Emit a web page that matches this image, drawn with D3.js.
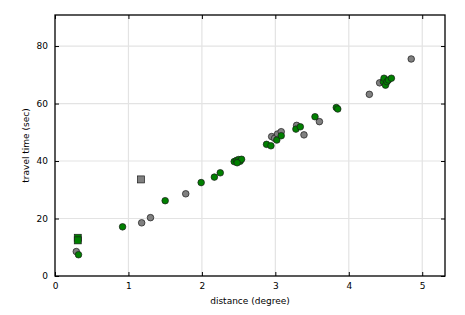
<!DOCTYPE html>
<html>
<head>
<meta charset="utf-8">
<script src="https://cdn.jsdelivr.net/npm/d3@7"></script>
<style>
  body { margin: 0; background: #fff; }
  text { font-family: "DejaVu Sans", sans-serif; }
</style>
</head>
<body>
<script>
// circles: [distance, travel time]
const greenDist = [0.32, 0.92, 1.50, 1.99, 2.17, 2.25, 2.44, 2.47, 2.50, 2.52, 2.54, 2.48,
  2.88, 2.94, 3.02, 3.08, 3.28, 3.34, 3.54, 3.83, 3.85, 4.47, 4.48, 4.50, 4.52, 4.54, 4.58];
const greenTime = [7.4, 17.1, 26.2, 32.5, 34.4, 35.9, 39.8, 40.2, 40.5, 39.9, 40.6, 39.4,
  45.8, 45.3, 47.3, 48.8, 51.1, 51.9, 55.4, 58.6, 58.1, 67.6, 68.8, 66.4, 67.6, 68.2, 68.8];
const grayDist = [0.29, 1.18, 1.30, 1.78, 2.95, 2.99, 3.03, 3.08, 3.29, 3.39, 3.60, 4.28, 4.42, 4.85];
const grayTime = [8.5, 18.5, 20.3, 28.6, 48.5, 47.9, 49.4, 50.2, 52.4, 49.1, 53.7, 63.2, 67.2, 75.5];
// squares
const greenSqDist = [0.31, 0.31];
const greenSqTime = [13.3, 12.4];
const graySqDist = [1.17];
const graySqTime = [33.6];

const xTicks = [0, 1, 2, 3, 4, 5];
const yTicks = [0, 20, 40, 60, 80];

const width = 465, height = 315;
const margin = { top: 15, right: 20, bottom: 39, left: 55 };

const svg = d3.select('body').append('svg')
  .attr('width', width)
  .attr('height', height);

const x = d3.scaleLinear().domain([0, 5.31]).range([margin.left, width - margin.right]);
const y = d3.scaleLinear().domain([0, 90.8]).range([height - margin.bottom, margin.top]);

// grid
svg.append('g').selectAll('line.gx')
  .data(xTicks.slice(1))
  .enter().append('line')
  .attr('x1', d => x(d)).attr('x2', d => x(d))
  .attr('y1', y.range()[0]).attr('y2', y.range()[1])
  .attr('stroke', '#e3e3e3').attr('stroke-width', 1.2);
svg.append('g').selectAll('line.gy')
  .data(yTicks.slice(1))
  .enter().append('line')
  .attr('x1', x.range()[0]).attr('x2', x.range()[1])
  .attr('y1', d => y(d)).attr('y2', d => y(d))
  .attr('stroke', '#e3e3e3').attr('stroke-width', 1.2);

const pts = svg.append('g');
function circles(xs, ys, fill) {
  pts.selectAll(null)
    .data(xs.map((d, i) => [d, ys[i]]))
    .enter().append('circle')
    .attr('cx', d => x(d[0]))
    .attr('cy', d => y(d[1]))
    .attr('r', 3.3)
    .attr('fill', fill)
    .attr('stroke', '#1a1a1a')
    .attr('stroke-width', 0.7);
}
function squares(xs, ys, fill) {
  pts.selectAll(null)
    .data(xs.map((d, i) => [d, ys[i]]))
    .enter().append('rect')
    .attr('x', d => x(d[0]) - 3.5)
    .attr('y', d => y(d[1]) - 3.5)
    .attr('width', 7).attr('height', 7)
    .attr('fill', fill)
    .attr('stroke', '#1a1a1a')
    .attr('stroke-width', 0.7);
}
circles(grayDist, grayTime, '#808080');
circles(greenDist, greenTime, '#008000');
squares(graySqDist, graySqTime, '#808080');
squares(greenSqDist, greenSqTime, '#008000');

// axes with inward ticks
const fmt = d3.format('d');
svg.append('g')
  .attr('transform', `translate(0,${y.range()[0]})`)
  .call(d3.axisBottom(x).tickValues(xTicks).tickFormat(fmt).tickSizeInner(-4).tickSizeOuter(0).tickPadding(7))
  .call(g => g.select('.domain').remove());
svg.append('g')
  .attr('transform', `translate(0,${y.range()[1]})`)
  .call(d3.axisTop(x).tickValues(xTicks).tickFormat('').tickSizeInner(-4).tickSizeOuter(0))
  .call(g => g.select('.domain').remove());
svg.append('g')
  .attr('transform', `translate(${x.range()[0]},0)`)
  .call(d3.axisLeft(y).tickValues(yTicks).tickFormat(fmt).tickSizeInner(-4).tickSizeOuter(0).tickPadding(7))
  .call(g => g.select('.domain').remove());
svg.append('g')
  .attr('transform', `translate(${x.range()[1]},0)`)
  .call(d3.axisRight(y).tickValues(yTicks).tickFormat('').tickSizeInner(-4).tickSizeOuter(0))
  .call(g => g.select('.domain').remove());

svg.selectAll('.tick line').attr('stroke', '#000').attr('stroke-width', 1);
svg.selectAll('.tick text').attr('font-size', 9).attr('fill', '#000')
  .style('font-family', '"DejaVu Sans", sans-serif');

// frame
svg.append('rect')
  .attr('x', x.range()[0]).attr('y', y.range()[1])
  .attr('width', x.range()[1] - x.range()[0])
  .attr('height', y.range()[0] - y.range()[1])
  .attr('fill', 'none').attr('stroke', '#000').attr('stroke-width', 1.3);

svg.append('text')
  .attr('x', (x.range()[0] + x.range()[1]) / 2)
  .attr('y', 304)
  .attr('text-anchor', 'middle')
  .attr('font-size', 9)
  .text('distance (degree)');
svg.append('text')
  .attr('transform', `translate(29,${(y.range()[0] + y.range()[1]) / 2}) rotate(-90)`)
  .attr('text-anchor', 'middle')
  .attr('font-size', 9)
  .text('travel time (sec)');
</script>
</body>
</html>
